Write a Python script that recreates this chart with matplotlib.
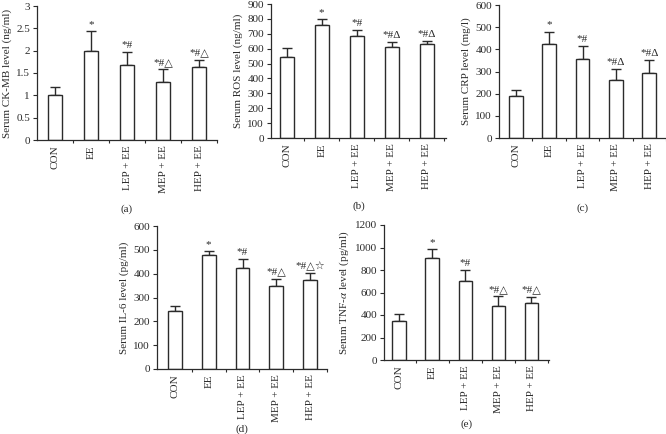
import numpy as np
import matplotlib
matplotlib.use('Agg')
import matplotlib.pyplot as plt
from matplotlib.ticker import FixedLocator, FormatStrFormatter

plt.rcParams['font.family'] = ['Liberation Serif', 'DejaVu Sans']
plt.rcParams['mathtext.fontset'] = 'stix'
plt.rcParams['font.size'] = 8

# groups
groups = ['CON', 'EE', 'LEP + EE', 'MEP + EE', 'HEP + EE']

# (a) CK-MB
ckmb_mean = [1.01, 1.99, 1.69, 1.30, 1.63]
ckmb_sd = [0.18, 0.44, 0.27, 0.29, 0.17]
ckmb_sig = ['', '*', '*#', '*#△', '*#△']
# (b) ROS
ros_mean = [545, 756, 684, 608, 628]
ros_sd = [61, 41, 39, 34, 21]
ros_sig = ['', '*', '*#', '*#Δ', '*#Δ']
# (c) CRP
crp_mean = [190, 424, 358, 261, 292]
crp_sd = [26, 56, 58, 49, 58]
crp_sig = ['', '*', '*#', '*#Δ', '*#Δ']
# (d) IL-6
il6_mean = [244, 480, 424, 347, 374]
il6_sd = [22, 15, 38, 31, 30]
il6_sig = ['', '*', '*#', '*#△', '*#△☆']
# (e) TNF-a
tnf_mean = [350, 910, 702, 477, 507]
tnf_sd = [56, 77, 98, 92, 56]
tnf_sig = ['', '*', '*#', '*#△', '*#△']

W, H = 666, 434
col = '#2b2b2b'

fig = plt.figure(figsize=(W / 100, H / 100), dpi=100)


def rect(l, r, t, b):
    # pixel box -> figure fraction
    return [l / W, 1 - b / H, (r - l) / W, (b - t) / H]


def panel(box, mean, sd, sig, ymax, ystep, ylabel, tag, tagy, xlim, fmt='%g'):
    ax = fig.add_axes(rect(*box))
    x = np.arange(len(groups))
    ax.bar(x, mean, width=0.41, color='white', edgecolor=col, linewidth=1.0, zorder=2)
    ax.errorbar(x, mean, yerr=[np.zeros(len(sd)), sd], fmt='none', ecolor=col,
                elinewidth=1.0, capsize=3.3, capthick=1.0, zorder=1)
    for xi, m, s, t in zip(x, mean, sd, sig):
        if t:
            ax.text(xi, m + s + ymax * 0.015, t, ha='center', va='bottom', fontsize=8, color=col)
    ax.set_xlim(*xlim)
    ax.set_ylim(0, ymax)
    ax.set_yticks(np.arange(0, ymax + ystep / 2, ystep))
    ax.yaxis.set_major_formatter(FormatStrFormatter(fmt))
    ax.set_xticks(x)
    ax.set_xticklabels(groups, rotation=90)
    ax.xaxis.set_minor_locator(FixedLocator(x + 0.5))
    ax.tick_params(axis='x', which='major', length=0, pad=4)
    ax.tick_params(axis='x', which='minor', length=2, width=0.8, color=col)
    ax.tick_params(axis='y', length=3, width=0.8, color=col, pad=2)
    ax.tick_params(labelcolor=col, labelsize=8)
    for s in ['top', 'right']:
        ax.spines[s].set_visible(False)
    for s in ['left', 'bottom']:
        ax.spines[s].set_color(col)
        ax.spines[s].set_linewidth(0.9)
    ax.set_ylabel(ylabel, color=col, fontsize=8, labelpad=3)
    cx = (box[0] + box[1]) / 2
    fig.text(cx / W, 1 - tagy / H, tag, ha='center', va='center', fontsize=8, color=col)
    return ax


panel((37, 217, 6, 140), ckmb_mean, ckmb_sd, ckmb_sig, 3, 0.5,
      'Serum CK-MB level (ng/ml)', '(a)', 209, (-0.5, 4.5))
panel((271, 446, 4, 138), ros_mean, ros_sd, ros_sig, 900, 100,
      'Serum ROS level (ng/ml)', '(b)', 206, (-0.45, 4.55))
panel((499, 666, 5, 138), crp_mean, crp_sd, crp_sig, 600, 100,
      'Serum CRP level (mg/l)', '(c)', 208, (-0.5, 4.5))
panel((157, 327, 226, 369), il6_mean, il6_sd, il6_sig, 600, 100,
      'Serum IL-6 level (pg/ml)', '(d)', 429, (-0.53, 4.5))
panel((384, 549, 225, 360), tnf_mean, tnf_sd, tnf_sig, 1200, 200,
      'Serum TNF-$\\alpha$ level (pg/ml)', '(e)', 424, (-0.46, 4.53))

fig.savefig('out.png', dpi=100)
